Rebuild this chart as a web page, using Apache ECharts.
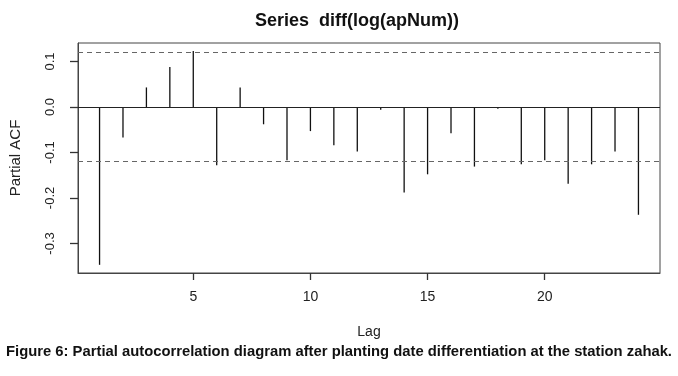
<!DOCTYPE html>
<html>
<head>
<meta charset="utf-8">
<title>PACF</title>
<script src="https://cdn.jsdelivr.net/npm/echarts@6/dist/echarts.min.js"></script>
<style>
    html, body { margin: 0; padding: 0; background: #fff; }
    #pacf_chart_con { width: 678px; height: 376px; }
</style>
</head>
<body>
<div id="pacf_chart_con"></div>
<script>
    // values
    var lags = [1, 2, 3, 4, 5, 6, 7, 8, 9, 10, 11, 12, 13, 14, 15, 16, 17, 18, 19, 20, 21, 22, 23, 24];
    var pacfValues = [-0.347, -0.067, 0.043, 0.088, 0.123, -0.128, 0.043, -0.038, -0.117, -0.053, -0.084, -0.098,
        -0.006, -0.188, -0.148, -0.058, -0.131, -0.004, -0.126, -0.117, -0.169, -0.126, -0.098, -0.237];
    var confLimit = 0.116;
    var xTicks = [5, 10, 15, 20];
    var yTicks = [-0.3, -0.2, -0.1, 0, 0.1];
    var caption = 'Figure 6: Partial autocorrelation diagram after planting date differentiation at the station zahak.';

    var spikeData = lags.map(function (l, i) {
        return [l, pacfValues[i]];
    });

    var chart = echarts.init(document.getElementById('pacf_chart_con'));
    chart.setOption({
        animation: false,
        textStyle: {fontFamily: 'Liberation Sans, Arial, sans-serif', color: '#222'},
        title: {
            text: 'Series  diff(log(apNum))',
            left: 250,
            top: 7,
            textStyle: {fontSize: 18, fontWeight: 'bold', color: '#111'}
        },
        grid: {
            left: 76,
            right: 18,
            top: 43,
            bottom: 103,
            show: true,
            borderColor: '#444',
            borderWidth: 1
        },
        xAxis: {
            type: 'value',
            min: 0.08,
            max: 24.92,
            name: 'Lag',
            nameLocation: 'middle',
            nameGap: 52,
            nameTextStyle: {fontSize: 14, color: '#222'},
            axisLine: {show: true, onZero: false, lineStyle: {color: '#444', width: 1}},
            splitLine: {show: false},
            axisTick: {show: true, length: 7, customValues: xTicks, lineStyle: {color: '#333', width: 1.3}},
            axisLabel: {customValues: xTicks, margin: 17, fontSize: 14, color: '#222'}
        },
        yAxis: {
            type: 'value',
            min: -0.365,
            max: 0.1407,
            name: 'Partial ACF',
            nameLocation: 'middle',
            nameGap: 55,
            nameTextStyle: {fontSize: 15, color: '#222'},
            axisLine: {show: true, onZero: false, lineStyle: {color: '#444', width: 1}},
            splitLine: {show: false},
            axisTick: {show: true, length: 8, customValues: yTicks, lineStyle: {color: '#333', width: 1.3}},
            axisLabel: {
                customValues: yTicks,
                rotate: 90,
                margin: 21,
                fontSize: 13,
                color: '#222',
                formatter: function (v) {
                    return v.toFixed(1);
                }
            }
        },
        series: [{
            type: 'custom',
            data: spikeData,
            renderItem: function (params, api) {
                var base = api.coord([api.value(0), 0]);
                var tip = api.coord([api.value(0), api.value(1)]);
                return {
                    type: 'line',
                    shape: {x1: base[0], y1: base[1], x2: tip[0], y2: tip[1]},
                    style: {stroke: '#111', lineWidth: 1.3}
                };
            },
            markLine: {
                silent: true,
                symbol: 'none',
                label: {show: false},
                data: [
                    {yAxis: 0, lineStyle: {type: 'solid', color: '#222', width: 1}},
                    {yAxis: confLimit, lineStyle: {type: [5, 4], color: '#666', width: 1.2}},
                    {yAxis: -confLimit, lineStyle: {type: [5, 4], color: '#666', width: 1.2}}
                ]
            }
        }],
        graphic: [{
            type: 'text',
            left: 'center',
            top: 344,
            style: {
                text: caption,
                font: 'bold 14.8px "Liberation Sans Narrow", "Liberation Sans", sans-serif',
                fill: '#111'
            }
        }]
    });
</script>
</body>
</html>
